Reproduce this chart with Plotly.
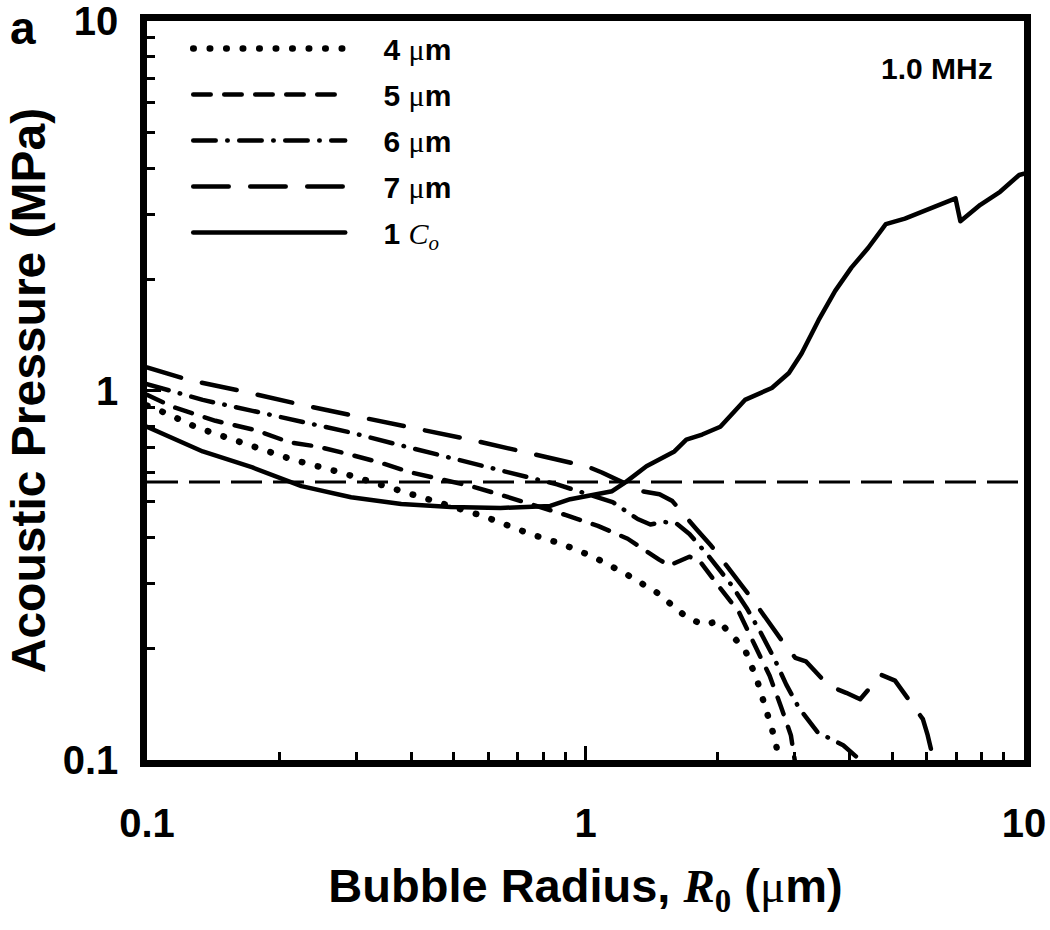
import plotly.graph_objects as go

# ---------------- data ----------------
# 4 um (dotted)
x_4um = [0.1, 0.11, 0.13, 0.168, 0.214, 0.275, 0.355, 0.456, 0.585, 0.748, 0.88, 1.04, 1.23,
         1.46, 1.71, 1.87, 2.01, 2.16, 2.31, 2.46, 2.59, 2.71, 2.76]
y_4um = [0.91, 0.87, 0.794, 0.714, 0.651, 0.601, 0.547, 0.502, 0.457, 0.409, 0.385, 0.355, 0.320,
         0.283, 0.242, 0.232, 0.238, 0.217, 0.199, 0.165, 0.136, 0.113, 0.1]

# 5 um (dashed)
x_5um = [0.1, 0.1145, 0.1433, 0.1783, 0.212, 0.2454, 0.290, 0.339, 0.400, 0.468, 0.548, 0.634,
         0.768, 0.903, 1.067, 1.248, 1.475, 1.553, 1.725, 1.816, 1.975, 2.24, 2.43, 2.63, 2.79,
         2.94, 3.0]
y_5um = [0.973, 0.903, 0.828, 0.779, 0.723, 0.705, 0.671, 0.639, 0.600, 0.575, 0.551, 0.524,
         0.490, 0.460, 0.430, 0.397, 0.348, 0.336, 0.355, 0.347, 0.304, 0.251, 0.205, 0.169,
         0.1396, 0.1167, 0.1]

# 6 um (dash-dot)
x_6um = [0.1, 0.134, 0.174, 0.2256, 0.292, 0.380, 0.493, 0.640, 0.861, 1.153, 1.315, 1.406,
         1.506, 1.61, 1.726, 1.914, 2.15, 2.33, 2.51, 2.69, 2.87, 3.06, 3.38, 3.62, 3.87, 4.23]
y_6um = [1.041, 0.943, 0.881, 0.823, 0.769, 0.710, 0.659, 0.608, 0.557, 0.499, 0.449, 0.434,
         0.441, 0.437, 0.409, 0.355, 0.298, 0.258, 0.221, 0.189, 0.160, 0.139, 0.119, 0.1137,
         0.1096, 0.1]

# 7 um (long dash)
x_7um = [0.1, 0.125, 0.168, 0.2256, 0.3037, 0.406, 0.547, 0.736, 1.008, 1.09, 1.34, 1.475,
         1.578, 1.789, 1.935, 2.27, 2.42, 2.80, 3.01, 3.18, 3.58, 3.93, 4.23, 4.72, 5.08, 5.88,
         6.03, 6.22]
y_7um = [1.154, 1.067, 0.991, 0.914, 0.849, 0.793, 0.736, 0.679, 0.623, 0.600, 0.534, 0.524,
         0.502, 0.422, 0.380, 0.297, 0.269, 0.211, 0.189, 0.185, 0.159, 0.152, 0.146, 0.170,
         0.164, 0.129, 0.1167, 0.1]

# 1 Co (solid)
x_1co = [0.1, 0.134, 0.174, 0.225, 0.292, 0.380, 0.493, 0.640, 0.831, 0.923, 1.15, 1.235,
         1.377, 1.595, 1.698, 1.845, 2.03, 2.31, 2.66, 2.91, 3.11, 3.40, 3.71, 4.04, 4.41,
         4.84, 5.35, 6.25, 6.98, 7.16, 7.95, 8.82, 9.75, 10.0]
y_1co = [0.798, 0.684, 0.619, 0.551, 0.514, 0.493, 0.484, 0.481, 0.487, 0.508, 0.534, 0.565,
         0.624, 0.684, 0.736, 0.760, 0.798, 0.943, 1.016, 1.115, 1.26, 1.55, 1.86, 2.15, 2.43,
         2.82, 2.92, 3.15, 3.31, 2.87, 3.18, 3.45, 3.83, 3.86]

# horizontal reference pressure (MPa)
threshold_mpa = 0.565

x_tickvals = [0.1, 1, 10]
x_ticktext = ["0.1", "1", "10"]
y_tickvals = [0.1, 1, 10]
y_ticktext = ["0.1", "1", "10"]
minor_vals = [0.2, 0.3, 0.4, 0.5, 0.6, 0.7, 0.8, 0.9, 2, 3, 4, 5, 6, 7, 8, 9]

# ---------------- styling ----------------
SANS = "Liberation Sans, Arial, sans-serif"
SERIF = "Liberation Serif, Times New Roman, serif"
MU = "<span style='font-family:%s;font-weight:normal'>μ</span>" % SERIF
NBSP = "\u00a0" * 4

legend_text = [
    NBSP + "4 " + MU + "m",
    NBSP + "5 " + MU + "m",
    NBSP + "6 " + MU + "m",
    NBSP + "7 " + MU + "m",
    NBSP + "1 <span style='font-family:%s;font-weight:normal'><i>C<sub>o</sub></i></span>" % SERIF,
]

styles = [
    dict(width=6.5, dash="0.5px,16px"),
    dict(width=4.5, dash="17.5px,13.5px"),
    dict(width=4.5, dash="22.5px,11.5px,0.5px,11.5px"),
    dict(width=4.5, dash="35.5px,21.5px"),
    dict(width=4.5, dash="solid"),
]

xs = [x_4um, x_5um, x_6um, x_7um, x_1co]
ys = [y_4um, y_5um, y_6um, y_7um, y_1co]

fig = go.Figure()
for i in range(5):
    fig.add_trace(go.Scatter(
        x=xs[i], y=ys[i], mode="lines", name=legend_text[i],
        legendgroup=str(i),
        line=dict(color="black", width=styles[i]["width"], dash=styles[i]["dash"]),
        hoverinfo="skip",
    ))

fig.add_shape(type="line", xref="x domain", yref="y", x0=0, x1=1,
              y0=threshold_mpa, y1=threshold_mpa,
              line=dict(color="black", width=3, dash="31px,11px"), layer="below")

axis_common = dict(
    type="log", range=[-1, 1], showgrid=False, zeroline=False,
    showline=True, linewidth=6.5, linecolor="black", mirror=True,
    ticks="inside", ticklen=14, tickwidth=2.5, tickcolor="black",
    tickmode="array", ticklabeloverflow="allow",
    tickfont=dict(family=SANS, size=40, color="black", weight="bold"),
    minor=dict(ticks="inside", ticklen=8, tickwidth=2.5, tickcolor="black",
               tickmode="array", tickvals=minor_vals, showgrid=False),
)

fig.update_xaxes(**axis_common, tickvals=x_tickvals, ticktext=x_ticktext,
                 ticklabelstandoff=22,
                 title=dict(text="Bubble Radius, <span style='font-family:%s'><i>R</i><sub>0</sub></span> (%sm)" % (SERIF, MU),
                            font=dict(family=SANS, size=47, color="black", weight="bold"),
                            standoff=28))
fig.update_yaxes(**axis_common, tickvals=y_tickvals, ticktext=y_ticktext,
                 ticklabelstandoff=14,
                 title=dict(text="Acoustic Pressure (MPa)",
                            font=dict(family=SANS, size=48, color="black", weight="bold"),
                            standoff=4))

fig.add_annotation(text="a", xref="paper", yref="paper", x=-0.158, y=1.028,
                   xanchor="left", yanchor="top", showarrow=False,
                   font=dict(family=SANS, size=46, color="black", weight="bold"))
fig.add_annotation(text="1.0 MHz", xref="paper", yref="paper", x=0.967, y=0.936,
                   xanchor="right", yanchor="middle", showarrow=False,
                   font=dict(family=SANS, size=30, color="black", weight="bold"))

fig.update_layout(
    width=1050, height=930,
    margin=dict(l=147, r=26, t=21, b=170, autoexpand=False),
    paper_bgcolor="white", plot_bgcolor="white",
    showlegend=True,
    legend=dict(x=0.047, y=0.998, xanchor="left", yanchor="top",
                bgcolor="rgba(0,0,0,0)", borderwidth=0,
                itemwidth=152, tracegroupgap=4,
                font=dict(family=SANS, size=30, color="black", weight="bold")),
)

post = ("var s=document.createElement('style');"
        "s.textContent='body{margin:0;overflow:hidden}.js-line{stroke-linecap:round;stroke-linejoin:round}';"
        "document.head.appendChild(s);")
fig.write_html("out.html", post_script=post, config={"displayModeBar": False})
